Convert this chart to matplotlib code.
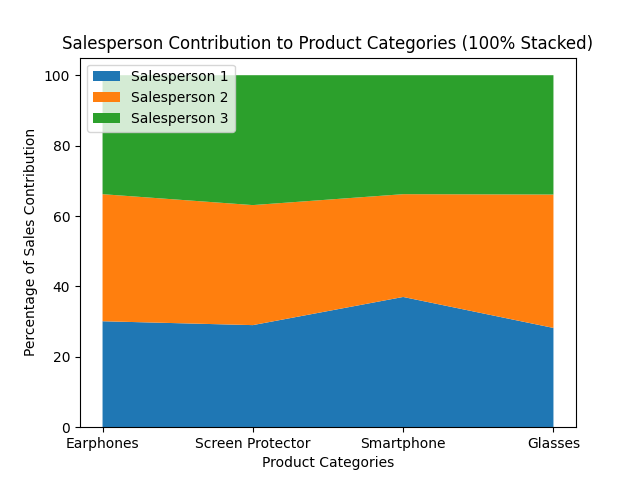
import matplotlib
matplotlib.use("Agg")
import matplotlib.pyplot as plt
import numpy as np

categories = ["Earphones", "Screen Protector", "Smartphone", "Glasses"]
salesperson1 = [30.1, 29.0, 37.0, 28.2]
salesperson2 = [36.1, 34.1, 29.2, 37.9]
salesperson3 = [100 - a - b for a, b in zip(salesperson1, salesperson2)]
labels = ["Salesperson 1", "Salesperson 2", "Salesperson 3"]

fig, ax = plt.subplots(figsize=(6.4, 4.8), dpi=100)
x = np.arange(len(categories))
ax.stackplot(x, salesperson1, salesperson2, salesperson3, labels=labels)
ax.set_xticks(x)
ax.set_xticklabels(categories)
ax.set_title("Salesperson Contribution to Product Categories (100% Stacked)")
ax.set_xlabel("Product Categories")
ax.set_ylabel("Percentage of Sales Contribution")
ax.legend(loc="upper left")
fig.savefig("out.png")
